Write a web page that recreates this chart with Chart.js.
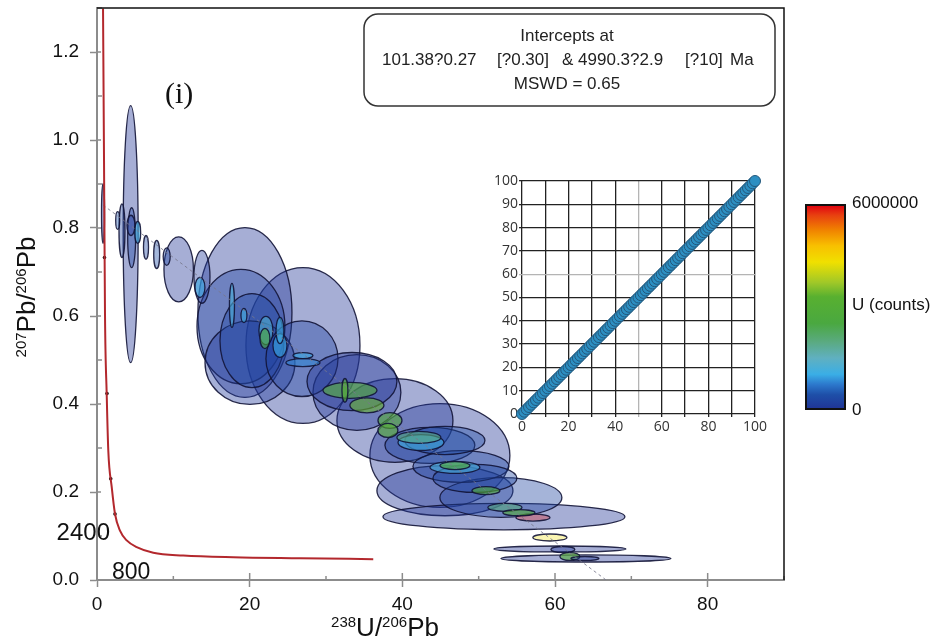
<!DOCTYPE html>
<html>
<head>
<meta charset="utf-8">
<title>Tera-Wasserburg concordia</title>
<script src="https://cdn.jsdelivr.net/npm/chart.js@4.4.1/dist/chart.umd.min.js"></script>
<style>
  body { margin: 0; background: #fff; }
  #wrap { position: relative; width: 943px; height: 638px; }
  #mainChart { position: absolute; left: 0; top: 0; }
  #insetChart { position: absolute; left: 490px; top: 165px; }
</style>
</head>
<body>
<div id="wrap">
  <canvas id="mainChart" width="943" height="638"></canvas>
  <canvas id="insetChart" width="280" height="280"></canvas>
</div>
<script>
// axis tick labels
const xTickLabels = [0, 20, 40, 60, 80];
const yTickLabels = ['0.0', '0.2', '0.4', '0.6', '0.8', '1.0', '1.2'];

// concordia curve (238U/206Pb, 207Pb/206Pb)
const concordiaX = [0.79, 0.92, 1.05, 1.27, 1.48, 1.93, 2.36, 3.01, 3.89, 5.20, 7.37, 11.30, 17.85, 26.59, 36.19];
const concordiaY = [1.299, 0.953, 0.601, 0.423, 0.294, 0.211, 0.150, 0.112, 0.090, 0.0745, 0.0618, 0.0557, 0.0518, 0.0495, 0.0473];
const ageMarkX = [0.98, 1.31, 1.80, 2.36];
const ageMarkY = [0.733, 0.424, 0.230, 0.150];
const ageLabelText = ['2400', '800'];
const ageLabelX = [1.70, 1.96];
const ageLabelY = [0.090, 0.003];

// discordia (regression) line end points
const discordiaX = [0.8, 66.7];
const discordiaY = [0.852, 0.0];

// error ellipses: centre, semi-axes and U counts
const ellipseX  = [4.41, 10.70, 13.75, 19.38, 18.86, 20.30, 26.98, 20.04, 26.85, 33.40, 34.05, 39.03, 44.92, 45.58, 52.91, 47.68, 43.61, 45.58, 53.31, 49.51, 60.64, 64.05,
                   0.79, 2.71, 3.27, 4.54, 5.33, 4.45, 6.42, 7.82, 9.13, 13.49, 17.68, 19.25, 22.13, 22.00, 23.97, 23.97, 26.98, 26.98, 33.14, 32.48, 35.36, 38.38, 38.11, 42.44, 42.17, 46.89, 46.89, 50.95, 53.44, 55.27, 57.11, 59.33, 61.03, 61.95, 63.92];
const ellipseY  = [0.786, 0.706, 0.689, 0.608, 0.576, 0.544, 0.533, 0.494, 0.503, 0.451, 0.426, 0.3625, 0.283, 0.203, 0.1875, 0.258, 0.306, 0.317, 0.144, 0.231, 0.0705, 0.0489,
                   0.833, 0.817, 0.794, 0.778, 0.790, 0.806, 0.756, 0.740, 0.735, 0.665, 0.624, 0.601, 0.567, 0.549, 0.567, 0.533, 0.510, 0.494, 0.431, 0.431, 0.397, 0.3625, 0.340, 0.3125, 0.324, 0.260, 0.256, 0.203, 0.165, 0.153, 0.142, 0.0966, 0.0693, 0.0534, 0.0489];
const ellipseSX = [0.98, 1.93, 1.05, 6.16, 5.76, 4.19, 7.47, 5.89, 4.72, 5.89, 5.76, 7.60, 9.17, 8.91, 7.99, 6.29, 5.89, 5.24, 15.85, 5.50, 8.64, 11.13,
                   0.20, 0.26, 0.39, 0.52, 0.39, 0.52, 0.33, 0.39, 0.46, 0.65, 0.33, 0.39, 0.92, 0.65, 0.52, 0.92, 1.31, 2.23, 3.54, 0.39, 2.23, 1.57, 1.31, 3.01, 2.88, 1.96, 3.27, 1.83, 2.23, 2.10, 2.23, 2.23, 1.57, 1.31, 1.83];
const ellipseSY = [0.292, 0.074, 0.060, 0.193, 0.130, 0.107, 0.177, 0.095, 0.086, 0.066, 0.086, 0.095, 0.118, 0.057, 0.045, 0.036, 0.041, 0.032, 0.030, 0.032, 0.0068, 0.008,
                   0.068, 0.020, 0.061, 0.068, 0.025, 0.023, 0.027, 0.032, 0.020, 0.023, 0.050, 0.016, 0.032, 0.023, 0.030, 0.027, 0.0068, 0.009, 0.018, 0.027, 0.017, 0.018, 0.016, 0.018, 0.0136, 0.009, 0.0136, 0.009, 0.009, 0.0068, 0.008, 0.008, 0.0068, 0.009, 0.0045];
const ellipseU  = [0, 0, 100000, 0, 200000, 300000, 0, 100000, 200000, 0, 0, 0, 0, 0, 250000, 300000, 300000, 350000, 0, 300000, 0, 0,
                   0, 500000, 200000, 300000, 1000000, 50000, 300000, 400000, 300000, 1000000, 1200000, 1100000, 1300000, 2800000, 1100000, 1000000, 1000000, 800000, 3000000, 3200000, 3400000, 3000000, 3200000, 1100000, 2000000, 3000000, 1200000, 3000000, 2000000, 3000000, 5900000, 4300000, 0, 3000000, 100000];

// colour bar
const colorbarMax = 6000000;
const colorbarLabels = ['6000000', 'U (counts)', '0'];

// inset 1:1 plot
const insetXTickLabels = [0, 20, 40, 60, 80, 100];
const insetYTickLabels = [0, 10, 20, 30, 40, 50, 60, 70, 80, 90, 100];
const insetX = [0,1,2,3,4,5,6,7,8,9,10,11,12,13,14,15,16,17,18,19,20,21,22,23,24,25,26,27,28,29,30,31,32,33,34,35,36,37,38,39,40,41,42,43,44,45,46,47,48,49,50,51,52,53,54,55,56,57,58,59,60,61,62,63,64,65,66,67,68,69,70,71,72,73,74,75,76,77,78,79,80,81,82,83,84,85,86,87,88,89,90,91,92,93,94,95,96,97,98,99,100];
const insetY = [0,1,2,3,4,5,6,7,8,9,10,11,12,13,14,15,16,17,18,19,20,21,22,23,24,25,26,27,28,29,30,31,32,33,34,35,36,37,38,39,40,41,42,43,44,45,46,47,48,49,50,51,52,53,54,55,56,57,58,59,60,61,62,63,64,65,66,67,68,69,70,71,72,73,74,75,76,77,78,79,80,81,82,83,84,85,86,87,88,89,90,91,92,93,94,95,96,97,98,99,100];

const SANS = '"Liberation Sans", Arial, sans-serif';

// colour map of the U scale (fraction of max -> rgb)
const uStops = [
  [0.00, [32, 52, 150]],
  [0.07, [30, 79, 168]],
  [0.12, [44, 120, 204]],
  [0.17, [58, 174, 230]],
  [0.25, [96, 176, 192]],
  [0.33, [90, 170, 128]],
  [0.42, [74, 168, 64]],
  [0.55, [88, 176, 48]],
  [0.62, [160, 200, 40]],
  [0.72, [240, 224, 0]],
  [0.80, [248, 192, 0]],
  [0.88, [240, 128, 0]],
  [0.95, [232, 64, 16]],
  [1.00, [224, 0, 16]],
];

const uColor = (u, alpha) => {
  const f = Math.min(1, Math.max(0, u / colorbarMax));
  for (let i = 1; i < uStops.length; i++) {
    if (f <= uStops[i][0]) {
      const [f0, c0] = uStops[i - 1];
      const [f1, c1] = uStops[i];
      const t = (f - f0) / (f1 - f0);
      const c = c0.map((v, k) => Math.round(v + (c1[k] - v) * t));
      return `rgba(${c[0]},${c[1]},${c[2]},${alpha})`;
    }
  }
  return `rgba(224,0,16,${alpha})`;
};

// brighter fills for the small high-U spots, paler for the very high ones
const uAlpha = (u) => (u > 4000000 ? 0.3 : u > 500000 ? 0.6 : 0.4);

const drawRich = (ctx, parts, cx, baseY) => {
  const big = `26px ${SANS}`;
  const small = `15px ${SANS}`;
  const widths = parts.map((p) => { ctx.font = p.sup ? small : big; return ctx.measureText(p.t).width; });
  let px = cx - widths.reduce((s, w) => s + w, 0) / 2;
  ctx.textAlign = 'left';
  ctx.textBaseline = 'alphabetic';
  parts.forEach((p, i) => {
    ctx.font = p.sup ? small : big;
    ctx.fillText(p.t, px, p.sup ? baseY - 9 : baseY);
    px += widths[i];
  });
};

const ellipsePlugin = {
  id: 'errorEllipses',
  beforeDatasetsDraw(chart) {
    const { ctx, chartArea: a, scales: { x, y } } = chart;
    const order = ellipseX.map((_, i) => i).sort((p, q) => ellipseSX[q] * ellipseSY[q] - ellipseSX[p] * ellipseSY[p]);
    ctx.save();
    ctx.beginPath();
    ctx.rect(a.left, a.top, a.width, a.height);
    ctx.clip();
    order.forEach((i) => {
      const cx = x.getPixelForValue(ellipseX[i]);
      const cy = y.getPixelForValue(ellipseY[i]);
      const rx = Math.abs(x.getPixelForValue(ellipseX[i] + ellipseSX[i]) - cx);
      const ry = Math.abs(y.getPixelForValue(ellipseY[i] + ellipseSY[i]) - cy);
      ctx.beginPath();
      ctx.ellipse(cx, cy, rx, ry, 0, 0, Math.PI * 2);
      ctx.fillStyle = uColor(ellipseU[i], uAlpha(ellipseU[i]));
      ctx.fill();
      ctx.lineWidth = 1.3;
      ctx.strokeStyle = 'rgba(18,20,55,0.9)';
      ctx.stroke();
    });
    ctx.restore();
  },
};

const decorPlugin = {
  id: 'decor',
  afterDraw(chart) {
    const { ctx, chartArea: a, scales: { x, y } } = chart;
    ctx.save();

    // inward tick marks
    ctx.strokeStyle = '#8c8c8c';
    ctx.lineWidth = 1.5;
    x.ticks.forEach((t) => {
      const px = x.getPixelForValue(t.value);
      const major = xTickLabels.includes(t.value);
      ctx.beginPath();
      ctx.moveTo(px, a.bottom);
      ctx.lineTo(px, a.bottom - (major ? 7 : 4));
      ctx.stroke();
    });
    y.ticks.forEach((t) => {
      const py = y.getPixelForValue(t.value);
      const major = yTickLabels.includes(t.value.toFixed(1));
      ctx.beginPath();
      ctx.moveTo(a.left, py);
      ctx.lineTo(a.left + (major ? 4 : 5), py);
      ctx.stroke();
    });

    // frame top / right
    ctx.strokeStyle = '#111';
    ctx.lineWidth = 1.5;
    ctx.beginPath();
    ctx.moveTo(a.left, a.top);
    ctx.lineTo(a.right, a.top);
    ctx.lineTo(a.right, a.bottom);
    ctx.stroke();

    // age labels on concordia
    ctx.fillStyle = '#111';
    ctx.textBaseline = 'alphabetic';
    ctx.font = `24px ${SANS}`;
    ctx.textAlign = 'right';
    ctx.fillText(ageLabelText[0], x.getPixelForValue(ageLabelX[0]), y.getPixelForValue(ageLabelY[0]));
    ctx.font = `23px ${SANS}`;
    ctx.textAlign = 'left';
    ctx.fillText(ageLabelText[1], x.getPixelForValue(ageLabelX[1]), y.getPixelForValue(ageLabelY[1]));

    // axis titles
    ctx.fillStyle = '#111';
    drawRich(ctx, [{ t: '238', sup: true }, { t: 'U/', sup: false }, { t: '206', sup: true }, { t: 'Pb', sup: false }], 385, 636);
    ctx.save();
    ctx.translate(35, 297);
    ctx.rotate(-Math.PI / 2);
    drawRich(ctx, [{ t: '207', sup: true }, { t: 'Pb/', sup: false }, { t: '206', sup: true }, { t: 'Pb', sup: false }], 0, 0);
    ctx.restore();

    // panel label
    ctx.font = '30px "Liberation Serif", "Times New Roman", serif';
    ctx.textAlign = 'left';
    ctx.textBaseline = 'middle';
    ctx.fillText('(i)', 165, 95);

    // intercept box
    ctx.beginPath();
    ctx.roundRect(364, 14, 411, 92, 14);
    ctx.fillStyle = '#fff';
    ctx.fill();
    ctx.strokeStyle = '#333';
    ctx.lineWidth = 1.5;
    ctx.stroke();
    ctx.fillStyle = '#222';
    ctx.font = `17px ${SANS}`;
    ctx.textAlign = 'center';
    ctx.fillText('Intercepts at', 567, 36);
    ctx.textAlign = 'left';
    ctx.fillText('101.38?0.27', 382, 60);
    ctx.fillText('[?0.30]', 497, 60);
    ctx.fillText('& 4990.3?2.9', 562, 60);
    ctx.fillText('[?10]', 685, 60);
    ctx.fillText('Ma', 730, 60);
    ctx.textAlign = 'center';
    ctx.fillText('MSWD = 0.65', 567, 84);

    // colour bar
    const top = 205, bottom = 409, left = 806, right = 845;
    const grad = ctx.createLinearGradient(0, bottom, 0, top);
    uStops.forEach(([f, c]) => grad.addColorStop(f, `rgb(${c[0]},${c[1]},${c[2]})`));
    ctx.fillStyle = grad;
    ctx.fillRect(left, top, right - left, bottom - top);
    ctx.strokeStyle = '#111';
    ctx.lineWidth = 2;
    ctx.strokeRect(left, top, right - left, bottom - top);
    ctx.fillStyle = '#111';
    ctx.font = `17px ${SANS}`;
    ctx.textAlign = 'left';
    ctx.textBaseline = 'middle';
    ctx.fillText(colorbarLabels[0], 852, 203);
    ctx.fillText(colorbarLabels[1], 852, 305);
    ctx.fillText(colorbarLabels[2], 852, 410);

    ctx.restore();
  },
};

new Chart(document.getElementById('mainChart'), {
  type: 'scatter',
  data: {
    datasets: [
      {
        data: concordiaX.map((v, i) => ({ x: v, y: concordiaY[i] })),
        showLine: true,
        borderColor: '#b3282d',
        borderWidth: 2,
        pointRadius: 0,
        cubicInterpolationMode: 'monotone',
      },
      {
        data: discordiaX.map((v, i) => ({ x: v, y: discordiaY[i] })),
        showLine: true,
        borderColor: 'rgba(120,120,140,0.85)',
        borderWidth: 1,
        borderDash: [3, 3],
        pointRadius: 0,
      },
      {
        data: ageMarkX.map((v, i) => ({ x: v, y: ageMarkY[i] })),
        pointRadius: 1.8,
        pointBackgroundColor: '#111',
        pointBorderWidth: 0,
      },
    ],
  },
  options: {
    responsive: false,
    animation: false,
    layout: { padding: { top: 8, right: 159, left: 0, bottom: 0 } },
    plugins: { legend: { display: false }, tooltip: { enabled: false } },
    scales: {
      x: {
        type: 'linear',
        min: 0,
        max: 90,
        afterFit: (s) => { s.height = 58; s.paddingLeft = 0; s.paddingRight = 0; },
        ticks: {
          stepSize: 10, autoSkip: false, maxRotation: 0, padding: 6, color: '#111',
          font: { family: SANS, size: 19 },
          callback: (v) => (xTickLabels.includes(v) ? String(v) : ''),
        },
        grid: {
          drawOnChartArea: false, drawTicks: true, tickLength: 7, tickWidth: 1.5,
          tickColor: (c) => (c.tick && xTickLabels.includes(c.tick.value) ? '#8c8c8c' : 'rgba(0,0,0,0)'),
        },
        border: { color: '#8c8c8c', width: 2 },
      },
      y: {
        type: 'linear',
        min: 0,
        max: 1.3,
        afterFit: (s) => { s.width = 97; s.paddingTop = 0; s.paddingBottom = 0; },
        ticks: {
          stepSize: 0.1, autoSkip: false, padding: 11, color: '#111',
          font: { family: SANS, size: 19 },
          callback: (v) => (yTickLabels.includes(v.toFixed(1)) ? v.toFixed(1) : ''),
        },
        grid: {
          drawOnChartArea: false, drawTicks: true, tickLength: 7, tickWidth: 1.5,
          tickColor: (c) => (c.tick && yTickLabels.includes(c.tick.value.toFixed(1)) ? '#8c8c8c' : 'rgba(0,0,0,0)'),
        },
        border: { color: '#8c8c8c', width: 2 },
      },
    },
  },
  plugins: [ellipsePlugin, decorPlugin],
});

new Chart(document.getElementById('insetChart'), {
  type: 'scatter',
  data: {
    datasets: [{
      data: insetX.map((v, i) => ({ x: v, y: insetY[i] })),
      pointRadius: 5.5,
      pointBackgroundColor: '#2d8fc2',
      pointBorderColor: '#23587c',
      pointBorderWidth: 1,
      clip: false,
    }],
  },
  options: {
    responsive: false,
    animation: false,
    layout: { padding: { top: 16, right: 15, left: 0, bottom: 0 } },
    plugins: { legend: { display: false }, tooltip: { enabled: false } },
    scales: {
      x: {
        type: 'linear', min: 0, max: 100,
        afterFit: (s) => { s.height = 31; s.paddingLeft = 0; s.paddingRight = 0; },
        ticks: {
          stepSize: 10, autoSkip: false, maxRotation: 0, padding: 2, color: '#333',
          font: { family: '"Open Sans", sans-serif', size: 14 },
          callback: (v) => (insetXTickLabels.includes(v) ? String(v) : ''),
        },
        grid: { color: (c) => (c.tick && c.tick.value === 50 ? '#b4b4b4' : '#222'), lineWidth: 1.3, tickLength: 3 },
        border: { display: false },
      },
      y: {
        type: 'linear', min: 0, max: 100,
        afterFit: (s) => { s.width = 32; s.paddingTop = 0; s.paddingBottom = 0; },
        ticks: {
          stepSize: 10, autoSkip: false, padding: 1, color: '#333',
          font: { family: '"Open Sans", sans-serif', size: 14 },
          callback: (v) => (insetYTickLabels.includes(v) ? String(v) : ''),
        },
        grid: { color: (c) => (c.tick && c.tick.value === 60 ? '#b4b4b4' : '#222'), lineWidth: 1.3, tickLength: 3 },
        border: { display: false },
      },
    },
  },
});
</script>
</body>
</html>
